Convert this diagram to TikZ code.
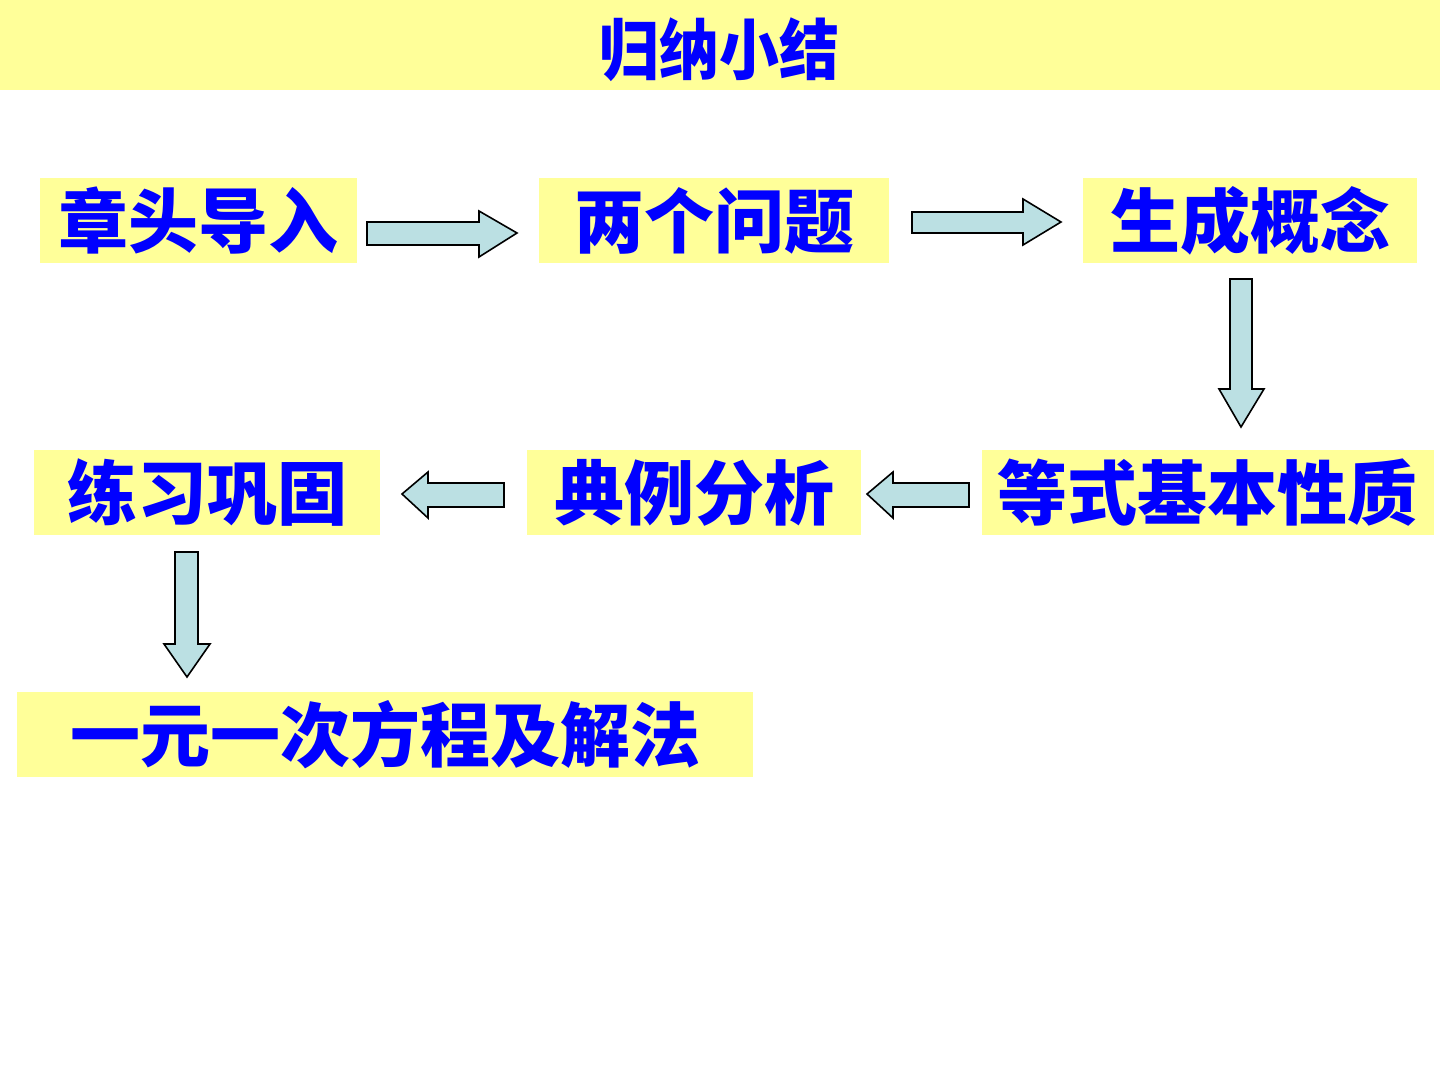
\documentclass[tikz,border=0pt]{standalone}
\usepackage{fontspec}
\newfontfamily\cjk{Noto Sans CJK SC}
\definecolor{boxyellow}{RGB}{255,255,153}
\definecolor{arrowblue}{RGB}{187,224,227}
\definecolor{txtblue}{RGB}{0,0,255}
\begin{document}
\begin{tikzpicture}[x=0.5pt,y=-0.5pt,
  stepbox/.style={fill=boxyellow,draw=none,inner sep=0pt,
    minimum height=42.5pt,text=txtblue,
    font=\cjk\bfseries\fontsize{35}{40}\selectfont},
  blockarrow/.style={fill=arrowblue,draw=black,line width=0.8pt,line join=miter}]
\useasboundingbox (0,0) rectangle (1440,1080);
\fill[white] (0,0) rectangle (1440,1080);
% title band
\fill[boxyellow] (0,0) rectangle (1440,90);
\node[text=txtblue,font=\cjk\bfseries\fontsize{30}{34}\selectfont,yscale=1.1] (title) at (719,50) {归纳小结};
% boxes
\node[stepbox,minimum width=158.5pt] (b1) at (198.5,220.5) {章头导入};
\node[stepbox,minimum width=175pt] (b2) at (714,220.5) {两个问题};
\node[stepbox,minimum width=167pt] (b3) at (1250,220.5) {生成概念};
\node[stepbox,minimum width=226pt] (b4) at (1207.5,492.5) {等式基本性质};
\node[stepbox,minimum width=167pt] (b5) at (694,492.5) {典例分析};
\node[stepbox,minimum width=173pt] (b6) at (207,492.5) {练习巩固};
\node[stepbox,minimum width=368pt] (b7) at (385,734.5) {一元一次方程及解法};
% arrows
\draw[blockarrow] (367,222) -- (479,222) -- (479,211) -- (517,233) -- (479,257) -- (479,245) -- (367,245) -- cycle;
\draw[blockarrow] (912,212) -- (1023,212) -- (1023,199) -- (1061,222) -- (1023,245) -- (1023,233) -- (912,233) -- cycle;
\draw[blockarrow] (1230,279) -- (1252,279) -- (1252,389) -- (1264,389) -- (1241,427) -- (1219,389) -- (1230,389) -- cycle;
\draw[blockarrow] (969,483) -- (893,483) -- (893,472) -- (867,494) -- (893,518) -- (893,507) -- (969,507) -- cycle;
\draw[blockarrow] (504,483) -- (428,483) -- (428,472) -- (402,494) -- (428,518) -- (428,507) -- (504,507) -- cycle;
\draw[blockarrow] (175,552) -- (198,552) -- (198,644) -- (210,644) -- (187,677) -- (164,644) -- (175,644) -- cycle;
\end{tikzpicture}
\end{document}
